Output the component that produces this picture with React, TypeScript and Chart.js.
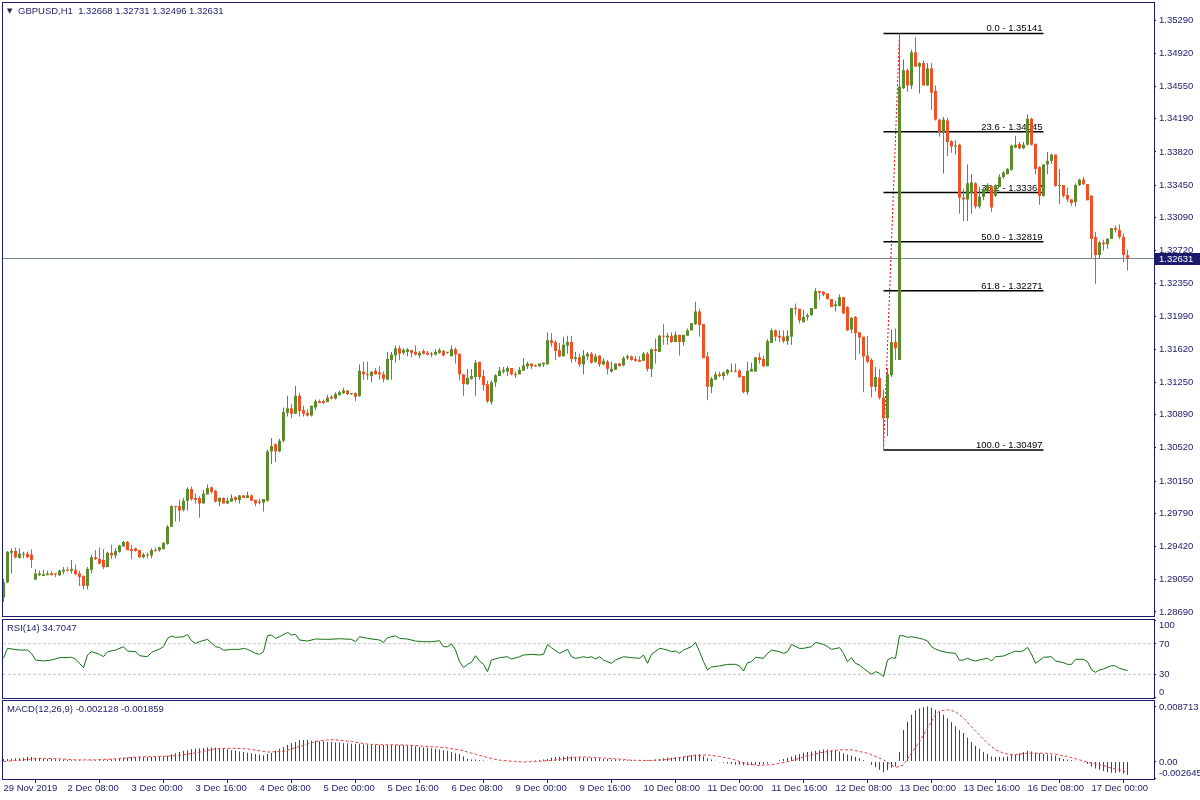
import React, { useEffect, useRef } from 'react';
import { Chart, registerables } from 'chart.js';

Chart.register(...registerables);

// ---------------- data ----------------
const symbolName = 'GBPUSD,H1';

const opens = [
  1.2885, 1.2902, 1.2935, 1.2937, 1.2929, 1.2933, 1.2934, 1.2933, 1.2905, 1.2910,
  1.2909, 1.2910, 1.2912, 1.2912, 1.2910, 1.2914, 1.2916, 1.2915, 1.2916, 1.2912,
  1.2909, 1.2898, 1.2916, 1.2930, 1.2928, 1.2927, 1.2919, 1.2935, 1.2932, 1.2936,
  1.2942, 1.2947, 1.2939, 1.2940, 1.2938, 1.2930, 1.2933, 1.2932, 1.2938, 1.2938,
  1.2939, 1.2945, 1.2964, 1.2987, 1.2987, 1.2983, 1.2993, 1.3006, 1.2996, 1.2996,
  1.2990, 1.3000, 1.3008, 1.3004, 1.2992, 1.2996, 1.2990, 1.2992, 1.2997, 1.2994,
  1.2999, 1.2996, 1.2999, 1.2994, 1.2992, 1.2991, 1.2993, 1.3048, 1.3056, 1.3048,
  1.3060, 1.3091, 1.3096, 1.3090, 1.3110, 1.3094, 1.3091, 1.3088, 1.3097, 1.3104,
  1.3104, 1.3103, 1.3109, 1.3107, 1.3111, 1.3113, 1.3116, 1.3112, 1.3113, 1.3110,
  1.3137, 1.3134, 1.3132, 1.3138, 1.3136, 1.3134, 1.3128, 1.3150, 1.3155, 1.3163,
  1.3158, 1.3159, 1.3161, 1.3159, 1.3155, 1.3160, 1.3158, 1.3157, 1.3156, 1.3158,
  1.3160, 1.3158, 1.3154, 1.3162, 1.3157, 1.3134, 1.3123, 1.3129, 1.3131, 1.3148,
  1.3132, 1.3123, 1.3103, 1.3125, 1.3132, 1.3137, 1.3137, 1.3141, 1.3134, 1.3134,
  1.3138, 1.3143, 1.3146, 1.3144, 1.3143, 1.3145, 1.3145, 1.3172, 1.3170, 1.3161,
  1.3154, 1.3166, 1.3170, 1.3151, 1.3153, 1.3145, 1.3154, 1.3157, 1.3148, 1.3155,
  1.3145, 1.3148, 1.3137, 1.3139, 1.3146, 1.3144, 1.3152, 1.3154, 1.3151, 1.3150,
  1.3149, 1.3157, 1.3140, 1.3162, 1.3159, 1.3177, 1.3175, 1.3177, 1.3170, 1.3178,
  1.3170, 1.3177, 1.3183, 1.3190, 1.3204, 1.3190, 1.3154, 1.3120, 1.3128, 1.3134,
  1.3132, 1.3135, 1.3137, 1.3138, 1.3138, 1.3132, 1.3114, 1.3137, 1.3137, 1.3153,
  1.3151, 1.3143, 1.3169, 1.3183, 1.3177, 1.3176, 1.3171, 1.3176, 1.3208, 1.3207,
  1.3192, 1.3198, 1.3200, 1.3207, 1.3227, 1.3226, 1.3224, 1.3218, 1.3210, 1.3210,
  1.3220, 1.3209, 1.3184, 1.3198, 1.3181, 1.3176, 1.3155, 1.3150, 1.3120, 1.3130,
  1.3108, 1.3085, 1.3133, 1.3170, 1.3150, 1.3453, 1.3473, 1.3456, 1.3493, 1.3477,
  1.3481, 1.3456, 1.3475, 1.3450, 1.3418, 1.3404, 1.3417, 1.3394, 1.3388, 1.3390,
  1.3331, 1.3329, 1.3336, 1.3347, 1.3321, 1.3332, 1.3338, 1.3344, 1.3333, 1.3343,
  1.3354, 1.3357, 1.3362, 1.3387, 1.3391, 1.3386, 1.3390, 1.3419, 1.3391, 1.3365,
  1.3333, 1.3368, 1.3372, 1.3379, 1.3344, 1.3345, 1.3334, 1.3329, 1.3326, 1.3345,
  1.3351, 1.3346, 1.3333, 1.3287, 1.3267, 1.3281, 1.3279, 1.3285, 1.3297, 1.3295,
  1.3287, 1.32668,
];

const highs = [
  1.2906, 1.2937, 1.2940, 1.2941, 1.2940, 1.2936, 1.2936, 1.2939, 1.2917, 1.2915,
  1.2916, 1.2915, 1.2914, 1.2912, 1.2916, 1.2919, 1.2919, 1.2927, 1.2922, 1.2915,
  1.2910, 1.2919, 1.2933, 1.2938, 1.2941, 1.2939, 1.2936, 1.2944, 1.2940, 1.2944,
  1.2948, 1.2948, 1.2944, 1.2941, 1.2938, 1.2935, 1.2935, 1.2940, 1.2941, 1.2942,
  1.2947, 1.2966, 1.2988, 1.2987, 1.2994, 1.2996, 1.3008, 1.3009, 1.3001, 1.2998,
  1.3005, 1.3011, 1.3009, 1.3005, 1.2997, 1.2997, 1.2997, 1.3000, 1.2998, 1.2999,
  1.2999, 1.3003, 1.3000, 1.2994, 1.2995, 1.2995, 1.3050, 1.3063, 1.3057, 1.3062,
  1.3097, 1.3110, 1.3101, 1.3121, 1.3113, 1.3099, 1.3095, 1.3099, 1.3106, 1.3106,
  1.3106, 1.3111, 1.3111, 1.3114, 1.3116, 1.3119, 1.3116, 1.3113, 1.3114, 1.3145,
  1.3148, 1.3148, 1.3137, 1.3141, 1.3143, 1.3137, 1.3159, 1.3159, 1.3166, 1.3166,
  1.3163, 1.3163, 1.3161, 1.3166, 1.3160, 1.3162, 1.3160, 1.3159, 1.3162, 1.3163,
  1.3161, 1.3159, 1.3166, 1.3164, 1.3157, 1.3134, 1.3140, 1.3140, 1.3150, 1.3148,
  1.3139, 1.3127, 1.3127, 1.3134, 1.3142, 1.3142, 1.3143, 1.3141, 1.3137, 1.3142,
  1.3152, 1.3148, 1.3146, 1.3145, 1.3146, 1.3147, 1.3181, 1.3180, 1.3172, 1.3169,
  1.3176, 1.3177, 1.3177, 1.3159, 1.3157, 1.3161, 1.3159, 1.3159, 1.3157, 1.3155,
  1.3152, 1.3150, 1.3148, 1.3146, 1.3147, 1.3154, 1.3156, 1.3155, 1.3154, 1.3154,
  1.3159, 1.3159, 1.3163, 1.3174, 1.3178, 1.3190, 1.3180, 1.3181, 1.3182, 1.3178,
  1.3178, 1.3185, 1.3191, 1.3215, 1.3207, 1.3190, 1.3159, 1.3131, 1.3137, 1.3137,
  1.3137, 1.3140, 1.3146, 1.3146, 1.3140, 1.3132, 1.3148, 1.3147, 1.3153, 1.3158,
  1.3155, 1.3173, 1.3185, 1.3184, 1.3183, 1.3183, 1.3183, 1.3208, 1.3213, 1.3207,
  1.3206, 1.3202, 1.3208, 1.3230, 1.3227, 1.3227, 1.3224, 1.3218, 1.3216, 1.3223,
  1.3220, 1.3210, 1.3198, 1.3199, 1.3181, 1.3176, 1.3177, 1.3152, 1.3142, 1.3140,
  1.3117, 1.3141, 1.3184, 1.3185, 1.35141, 1.3485, 1.3475, 1.3496, 1.3510, 1.3482,
  1.3484, 1.3481, 1.3481, 1.3456, 1.3419, 1.3421, 1.3420, 1.3395, 1.3395, 1.3391,
  1.3341, 1.3368, 1.3357, 1.3348, 1.3343, 1.3342, 1.3347, 1.3345, 1.3346, 1.3357,
  1.3361, 1.3364, 1.3390, 1.3400, 1.3393, 1.3393, 1.3424, 1.3420, 1.3391, 1.3366,
  1.3368, 1.3382, 1.3380, 1.3379, 1.3363, 1.3345, 1.3342, 1.3329, 1.3347, 1.3352,
  1.3354, 1.3346, 1.3334, 1.3293, 1.3283, 1.3284, 1.3286, 1.3297, 1.3300, 1.3301,
  1.3291, 1.32731,
];

const lows = [
  1.2880, 1.2901, 1.2912, 1.2929, 1.2929, 1.2929, 1.2929, 1.2918, 1.2905, 1.2909,
  1.2909, 1.2910, 1.2910, 1.2908, 1.2909, 1.2911, 1.2914, 1.2912, 1.2910, 1.2898,
  1.2894, 1.2894, 1.2912, 1.2927, 1.2922, 1.2917, 1.2919, 1.2928, 1.2929, 1.2935,
  1.2942, 1.2938, 1.2928, 1.2936, 1.2929, 1.2929, 1.2929, 1.2929, 1.2936, 1.2936,
  1.2939, 1.2944, 1.2964, 1.2970, 1.2970, 1.2981, 1.2982, 1.2993, 1.2990, 1.2974,
  1.2990, 1.3000, 1.3001, 1.2991, 1.2987, 1.2990, 1.2989, 1.2992, 1.2992, 1.2990,
  1.2996, 1.2996, 1.2993, 1.2987, 1.2989, 1.2981, 1.2992, 1.3034, 1.3036, 1.3047,
  1.3058, 1.3087, 1.3085, 1.3090, 1.3087, 1.3087, 1.3087, 1.3087, 1.3094, 1.3102,
  1.3101, 1.3103, 1.3106, 1.3106, 1.3110, 1.3112, 1.3111, 1.3111, 1.3104, 1.3109,
  1.3128, 1.3128, 1.3125, 1.3134, 1.3128, 1.3125, 1.3128, 1.3128, 1.3147, 1.3150,
  1.3156, 1.3154, 1.3153, 1.3155, 1.3152, 1.3156, 1.3155, 1.3153, 1.3155, 1.3157,
  1.3154, 1.3157, 1.3154, 1.3146, 1.3127, 1.3110, 1.3122, 1.3128, 1.3110, 1.3128,
  1.3116, 1.3102, 1.3100, 1.3120, 1.3132, 1.3135, 1.3132, 1.3133, 1.3130, 1.3134,
  1.3138, 1.3140, 1.3140, 1.3142, 1.3142, 1.3142, 1.3145, 1.3165, 1.3150, 1.3153,
  1.3154, 1.3157, 1.3147, 1.3148, 1.3142, 1.3134, 1.3150, 1.3146, 1.3147, 1.3142,
  1.3144, 1.3134, 1.3136, 1.3139, 1.3143, 1.3143, 1.3150, 1.3149, 1.3148, 1.3148,
  1.3149, 1.3137, 1.3131, 1.3146, 1.3159, 1.3167, 1.3167, 1.3169, 1.3170, 1.3155,
  1.3166, 1.3177, 1.3183, 1.3189, 1.3176, 1.3152, 1.3105, 1.3113, 1.3128, 1.3131,
  1.3128, 1.3133, 1.3137, 1.3136, 1.3130, 1.3113, 1.3111, 1.3137, 1.3137, 1.3146,
  1.3142, 1.3143, 1.3169, 1.3171, 1.3170, 1.3169, 1.3167, 1.3167, 1.3200, 1.3191,
  1.3192, 1.3194, 1.3199, 1.3207, 1.3217, 1.3221, 1.3217, 1.3209, 1.3204, 1.3210,
  1.3201, 1.3182, 1.3180, 1.3150, 1.3157, 1.3114, 1.3146, 1.3108, 1.3115, 1.3106,
  1.30497, 1.3065, 1.3131, 1.3150, 1.3150, 1.3452, 1.3449, 1.3452, 1.3477, 1.3447,
  1.3456, 1.3456, 1.3429, 1.3417, 1.3399, 1.3358, 1.3377, 1.3381, 1.3379, 1.3313,
  1.3305, 1.3305, 1.3313, 1.3319, 1.3319, 1.3328, 1.3337, 1.3315, 1.3332, 1.3343,
  1.3352, 1.3357, 1.3361, 1.3386, 1.3385, 1.3385, 1.3389, 1.3389, 1.3357, 1.3323,
  1.3332, 1.3357, 1.3369, 1.3343, 1.3324, 1.3331, 1.3326, 1.3322, 1.3321, 1.3344,
  1.3345, 1.3328, 1.3263, 1.3235, 1.3263, 1.3272, 1.3274, 1.3285, 1.3292, 1.3285,
  1.3259, 1.32496,
];

const closes = [
  1.2902, 1.2936, 1.2937, 1.2930, 1.2934, 1.2934, 1.2930, 1.2927, 1.2912, 1.2912,
  1.2911, 1.2912, 1.2910, 1.2911, 1.2915, 1.2916, 1.2915, 1.2917, 1.2911, 1.2908,
  1.2898, 1.2917, 1.2930, 1.2928, 1.2923, 1.2919, 1.2935, 1.2932, 1.2937, 1.2943,
  1.2947, 1.2938, 1.2937, 1.2937, 1.2930, 1.2933, 1.2932, 1.2938, 1.2937, 1.2941,
  1.2946, 1.2964, 1.2987, 1.2986, 1.2982, 1.2993, 1.3006, 1.2995, 1.2994, 1.2990,
  1.3001, 1.3007, 1.3003, 1.2992, 1.2996, 1.2990, 1.2993, 1.2996, 1.2994, 1.2999,
  1.2996, 1.2999, 1.2993, 1.2990, 1.2991, 1.2995, 1.3048, 1.3054, 1.3048, 1.3060,
  1.3092, 1.3096, 1.3090, 1.3110, 1.3093, 1.3090, 1.3088, 1.3099, 1.3104, 1.3102,
  1.3102, 1.3108, 1.3107, 1.3112, 1.3114, 1.3116, 1.3112, 1.3112, 1.3109, 1.3138,
  1.3134, 1.3133, 1.3137, 1.3134, 1.3134, 1.3129, 1.3151, 1.3156, 1.3163, 1.3157,
  1.3161, 1.3162, 1.3158, 1.3156, 1.3158, 1.3157, 1.3156, 1.3156, 1.3159, 1.3161,
  1.3155, 1.3158, 1.3162, 1.3156, 1.3134, 1.3123, 1.3130, 1.3132, 1.3147, 1.3131,
  1.3122, 1.3104, 1.3125, 1.3133, 1.3138, 1.3139, 1.3141, 1.3134, 1.3133, 1.3139,
  1.3144, 1.3146, 1.3143, 1.3143, 1.3146, 1.3147, 1.3172, 1.3169, 1.3160, 1.3154,
  1.3167, 1.3170, 1.3151, 1.3153, 1.3145, 1.3155, 1.3157, 1.3147, 1.3154, 1.3145,
  1.3149, 1.3140, 1.3140, 1.3146, 1.3143, 1.3152, 1.3154, 1.3150, 1.3149, 1.3148,
  1.3157, 1.3140, 1.3162, 1.3160, 1.3177, 1.3176, 1.3177, 1.3170, 1.3178, 1.3170,
  1.3178, 1.3183, 1.3191, 1.3204, 1.3189, 1.3152, 1.3120, 1.3129, 1.3134, 1.3132,
  1.3136, 1.3139, 1.3138, 1.3137, 1.3131, 1.3114, 1.3138, 1.3140, 1.3153, 1.3150,
  1.3143, 1.3171, 1.3183, 1.3176, 1.3175, 1.3171, 1.3177, 1.3208, 1.3207, 1.3194,
  1.3198, 1.3200, 1.3208, 1.3227, 1.3225, 1.3223, 1.3218, 1.3209, 1.3212, 1.3220,
  1.3202, 1.3183, 1.3197, 1.3180, 1.3175, 1.3154, 1.3148, 1.3120, 1.3131, 1.3108,
  1.3085, 1.3134, 1.3170, 1.3163, 1.3455, 1.3473, 1.3456, 1.3493, 1.3477, 1.3481,
  1.3456, 1.3475, 1.3448, 1.3418, 1.3404, 1.3418, 1.3393, 1.3388, 1.3389, 1.3331,
  1.3329, 1.3347, 1.3348, 1.3321, 1.3332, 1.3340, 1.3345, 1.3320, 1.3345, 1.3354,
  1.3359, 1.3363, 1.3389, 1.3390, 1.3386, 1.3390, 1.3419, 1.3390, 1.3363, 1.3333,
  1.3368, 1.3372, 1.3379, 1.3344, 1.3345, 1.3333, 1.3329, 1.3325, 1.3345, 1.3351,
  1.3346, 1.3328, 1.3285, 1.3267, 1.3281, 1.3279, 1.3285, 1.3297, 1.3295, 1.3287,
  1.3267, 1.32631,
];

// right price axis labels
const priceTicks = [
  1.3529, 1.3492, 1.3455, 1.3419, 1.3382, 1.3345, 1.3309, 1.3272, 1.3235, 1.3199,
  1.3162, 1.3125, 1.3089, 1.3052, 1.3015, 1.2979, 1.2942, 1.2905, 1.2869,
];

// time axis (bar index of each label, and its text)
const xTickBars = [0, 16, 32, 48, 64, 80, 96, 112, 128, 144, 160, 176, 192, 208, 224, 240, 256, 272];
const xTickLabels = [
  '29 Nov 2019', '2 Dec 08:00', '3 Dec 00:00', '3 Dec 16:00', '4 Dec 08:00', '5 Dec 00:00',
  '5 Dec 16:00', '6 Dec 08:00', '9 Dec 00:00', '9 Dec 16:00', '10 Dec 08:00', '11 Dec 00:00',
  '11 Dec 16:00', '12 Dec 08:00', '13 Dec 00:00', '13 Dec 16:00', '16 Dec 08:00', '17 Dec 00:00',
];

// Fibonacci retracement
const fibLevels = [0, 23.6, 38.2, 50, 61.8, 100];
const fibPrices = [1.35141, 1.34045, 1.33367, 1.32819, 1.32271, 1.30497];
const fibLineBars = [220, 260];
const fibAnchorBars = [220, 224];
const fibAnchorPrices = [1.30497, 1.35141];

// RSI(14)
const rsiBars = [
  0, 1, 4, 6, 7, 8, 10, 12, 14, 17,
  18, 19, 20, 21, 22, 24, 25, 26, 28, 30,
  31, 33, 34, 36, 37, 39, 40, 41, 42, 43,
  45, 46, 47, 48, 49, 51, 53, 54, 55, 57,
  59, 60, 61, 63, 64, 65, 66, 67, 68, 69,
  71, 72, 73, 74, 76, 78, 81, 84, 87, 88,
  89, 91, 94, 95, 96, 98, 99, 101, 103, 105,
  107, 109, 110, 111, 112, 113, 114, 115, 116, 117,
  118, 119, 120, 121, 122, 124, 126, 127, 129, 130,
  132, 134, 135, 136, 137, 139, 141, 142, 143, 144,
  145, 146, 147, 148, 149, 150, 152, 153, 155, 157,
  159, 160, 161, 162, 164, 165, 166, 167, 168, 169,
  170, 172, 173, 174, 175, 176, 177, 179, 181, 183,
  184, 185, 186, 187, 188, 190, 191, 192, 194, 195,
  196, 197, 199, 200, 202, 203, 205, 206, 207, 209,
  210, 211, 212, 213, 214, 215, 217, 218, 219, 220,
  221, 222, 223, 224, 225, 226, 227, 229, 230, 231,
  232, 233, 234, 236, 238, 239, 240, 241, 242, 243,
  245, 246, 247, 248, 250, 252, 253, 254, 255, 256,
  257, 258, 260, 262, 263, 265, 266, 267, 268, 270,
  271, 272, 273, 274, 275, 277, 278, 279, 281,
];
const rsiValues = [
  50.9, 63.9, 61.7, 61.7, 57.4, 48.7, 47.4, 48.7, 51.7, 52.2,
  50, 44.3, 38.7, 55.2, 59.6, 56.1, 53, 59.6, 61.7, 66.1,
  60.4, 59.6, 54.3, 53, 58.7, 63, 66.1, 77, 80, 78.3,
  79.1, 82.2, 73.9, 70.4, 72.6, 75.7, 66.1, 65.2, 61.3, 62.6,
  62.6, 63.9, 62.6, 57.4, 56.1, 59.6, 80.4, 81.3, 77, 79.1,
  84.8, 81.3, 82.2, 74.8, 73.5, 76.1, 75.7, 76.5, 75.7, 72.6,
  79.1, 77, 74.8, 71.7, 77.8, 80.4, 77, 76.1, 73.5, 72.6,
  72.6, 73.9, 66.1, 66.1, 69.6, 61.7, 46.5, 38.7, 43, 45.7,
  54.3, 47.4, 43, 33.5, 48.7, 51.7, 53, 50, 53, 55.2,
  56.1, 55.2, 56.1, 69.1, 64.8, 57.4, 62.6, 53, 50.9, 51.7,
  53, 51.7, 53, 50, 53, 48.7, 44.3, 48.7, 53, 51.7,
  50.9, 55.2, 44.3, 56.1, 63.9, 63, 61.7, 59.6, 60.4, 57.4,
  61.7, 66.1, 71.7, 59.6, 46.5, 35.7, 39.6, 40.9, 43, 43,
  40.9, 34.3, 45.2, 46.5, 52.2, 50.9, 57.4, 61.7, 59.6, 57.4,
  59.6, 69.1, 63.9, 63.9, 66.1, 71.7, 69.1, 66.1, 62.6, 64.8,
  57.4, 46.5, 51.7, 44.3, 42.2, 37.8, 30, 33.5, 31.3, 27,
  48.7, 51.7, 50.9, 80.4, 80.4, 78.3, 79.1, 77, 75.7, 73.5,
  66.1, 63, 60.9, 58.3, 57.4, 48.3, 48.7, 50.9, 48.7, 47.4,
  50, 50.9, 47.4, 53, 53.9, 58.3, 60.4, 59.6, 60.9, 65.2,
  56.5, 44.3, 52.2, 53, 47.4, 45.2, 43, 43, 49.6, 49.6,
  46.5, 35.7, 32.6, 35.7, 37, 41.3, 40.9, 37.8, 34.7047,
];
const rsiLevels = [30, 70];
const rsiTicks = [0, 30, 70, 100];

// MACD(12,26,9): main value of every bar, signal line samples
const macdValues = [
  0.0004, 0.0004, 0.00045, 0.0005, 0.0005, 0.0006, 0.0007, 0.0007, 0.0006, 0.0005,
  0.00045, 0.0004, 0.0004, 0.00035, 0.0003, 0.0003, 0.00025, 0.0002, 0.0002, 0.00015,
  0.0001, 0.0001, 0.00015, 0.0002, 0.0002, 0.00025, 0.0003, 0.00035, 0.0004, 0.0005,
  0.0006, 0.00065, 0.0007, 0.0007, 0.00075, 0.0007, 0.0007, 0.0007, 0.00075, 0.0008,
  0.0008, 0.0009, 0.00115, 0.0013, 0.0015, 0.0017, 0.0018, 0.00195, 0.002, 0.0021,
  0.00215, 0.0022, 0.0022, 0.0022, 0.0021, 0.002, 0.00195, 0.0018, 0.0017, 0.0016,
  0.0015, 0.0014, 0.0013, 0.0012, 0.0011, 0.00095, 0.0012, 0.0014, 0.0017, 0.002,
  0.0023, 0.0026, 0.0029, 0.0031, 0.0034, 0.0034, 0.0034, 0.0033, 0.0033, 0.0032,
  0.0032, 0.0031, 0.0031, 0.003, 0.003, 0.0029, 0.0029, 0.0028, 0.0028, 0.0028,
  0.0027, 0.0027, 0.0026, 0.0026, 0.0026, 0.0026, 0.0026, 0.0026, 0.0026, 0.0026,
  0.0026, 0.0025, 0.0025, 0.0024, 0.0023, 0.0022, 0.0022, 0.0021, 0.002, 0.0019,
  0.0018, 0.0017, 0.0015, 0.0013, 0.0012, 0.0008, 0.0004, 0.0003, 0.0003, 0.0002,
  0.00015, 0.0001, 0.00005, 0, 0, -0.00003, -0.00003, 0, 0, 0.00003,
  0.00005, 0.0001, 0.0001, 0.00015, 0.0002, 0.0003, 0.0004, 0.0006, 0.0007, 0.00075,
  0.0008, 0.00085, 0.0008, 0.00075, 0.0007, 0.00065, 0.0006, 0.00055, 0.0005, 0.0005,
  0.0004, 0.0004, 0.0003, 0.0003, 0.0002, 0.0002, 0.0002, 0.0002, 0.0002, 0.0002,
  0.0002, 0.0002, 0.0002, 0.0003, 0.0004, 0.0005, 0.0006, 0.0006, 0.0007, 0.0007,
  0.0008, 0.0009, 0.001, 0.0011, 0.0012, 0.0008, 0.0005, 0.0003, 0.0001, -0.0001,
  -0.0002, -0.0003, -0.0004, -0.0005, -0.0005, -0.0006, -0.0006, -0.0006, -0.0005, -0.0005,
  -0.0004, -0.0003, -0.0001, 0, 0.0002, 0.0004, 0.0006, 0.0008, 0.001, 0.0012,
  0.0014, 0.0015, 0.0016, 0.0017, 0.0018, 0.0019, 0.0019, 0.0018, 0.0018, 0.0016,
  0.0013, 0.0011, 0.0009, 0.0007, 0.0005, 0.0002, 0, -0.0005, -0.0009, -0.0013,
  -0.0017, -0.0014, -0.001, -0.0008, 0.0015, 0.005, 0.0063, 0.0074, 0.0081, 0.0084,
  0.0086, 0.008713, 0.0085, 0.0082, 0.0079, 0.0074, 0.0068, 0.0062, 0.0056, 0.005,
  0.0045, 0.0038, 0.0031, 0.0025, 0.002, 0.0015, 0.0012, 0.0008, 0.0007, 0.0007,
  0.0007, 0.0008, 0.0011, 0.0012, 0.0013, 0.0015, 0.0017, 0.0016, 0.0014, 0.0013,
  0.0012, 0.0011, 0.001, 0.0009, 0.0006, 0.0004, 0.0003, 0.0002, 0.0001, 0,
  -0.0001, -0.0004, -0.0008, -0.0011, -0.0013, -0.0015, -0.0017, -0.0018, -0.0018, -0.0017,
  -0.0019, -0.002128,
];
const signalBars = [
  0, 5, 9, 14, 18, 23, 28, 33, 38, 41,
  45, 49, 53, 57, 61, 64, 66, 70, 74, 78,
  81, 83, 87, 91, 95, 99, 103, 106, 110, 114,
  118, 121, 124, 128, 130, 133, 137, 141, 145, 149,
  153, 157, 161, 165, 168, 172, 176, 179, 182, 186,
  189, 193, 197, 201, 205, 209, 212, 216, 220, 223,
  225, 227, 229, 231, 233, 234, 236, 238, 240, 242,
  244, 246, 248, 250, 252, 254, 256, 260, 263, 266,
  269, 272, 275, 277, 280, 281,
];
const signalValues = [
  0, 0.00026, 0.00053, 0.00042, 0.00026, 0.00026, 0.00042, 0.00069, 0.00079, 0.00084,
  0.00106, 0.00148, 0.00201, 0.00211, 0.00201, 0.0017, 0.0015, 0.0016, 0.00238, 0.00317,
  0.00343, 0.00343, 0.00317, 0.00275, 0.00264, 0.00264, 0.00253, 0.00238, 0.00222, 0.00185,
  0.00116, 0.00063, 0.00021, 0, -0.0001, 0, 0.00016, 0.00053, 0.00074, 0.0006,
  0.00042, 0.00021, 0.00016, 0.00026, 0.00053, 0.0009, 0.00106, 0.00079, 0.00042, -0.00042,
  -0.00063, -0.00042, 0.00011, 0.00095, 0.00148, 0.00185, 0.00185, 0.00132, 0.00026, -0.00095,
  -0.00053, 0.00132, 0.00317, 0.00528, 0.0074, 0.008, 0.0082, 0.0079, 0.0069, 0.0055,
  0.0042, 0.0029, 0.00185, 0.00132, 0.00106, 0.00116, 0.00132, 0.00132, 0.00116, 0.00079,
  0.00026, -0.00026, -0.00063, -0.00106, -0.00148, -0.001859,
];
const macdTicks = [-0.002645, 0, 0.008713];

// ---------------- styling ----------------
const FONT = "'Liberation Sans', Arial, sans-serif";
const FONT_SIZE = 9.5;
const NAVY = '#191970';
const TEXT = '#22226e';
const BULL = '#5b8c2b';
const BEAR = '#f34e24';

// horizontal range: 4 px per bar, chart shifted to leave room on the right
const X_MIN = -0.125;
const X_MAX = 287.625;

const lastIndex = closes.length - 1;
const lastClose = closes[lastIndex];
const bars = closes.map((_, i) => i);
const candleColors = closes.map((c, i) => (c >= opens[i] ? BULL : BEAR));

const fontStr = `${FONT_SIZE}px ${FONT}`;

const framePlugin = {
  id: 'paneFrame',
  afterDraw(chart: any) {
    const { ctx, chartArea: a } = chart;
    ctx.save();
    ctx.strokeStyle = NAVY;
    ctx.lineWidth = 1;
    ctx.strokeRect(a.left - 0.5, a.top - 0.5, a.right - a.left + 1, a.bottom - a.top + 1);
    ctx.restore();
  },
};

function captionPlugin(text: string, arrow: boolean) {
  return {
    id: 'caption',
    afterDraw(chart: any) {
      const { ctx, chartArea: a } = chart;
      ctx.save();
      ctx.fillStyle = TEXT;
      ctx.textBaseline = 'middle';
      ctx.textAlign = 'left';
      let x = a.left + 4;
      const y = a.top + 8;
      if (arrow) {
        ctx.font = "7px 'DejaVu Sans', sans-serif";
        ctx.fillStyle = '#202040';
        ctx.fillText('\u25BC', x, y);
        x += 11;
        ctx.fillStyle = TEXT;
      }
      ctx.font = fontStr;
      ctx.fillText(text, x, y + 0.5);
      ctx.restore();
    },
  };
}

function sideLabelPlugin(fmt: (v: number) => string) {
  return {
    id: 'sideLabels',
    afterDraw(chart: any) {
      const { ctx, chartArea: a } = chart;
      const s = chart.scales.y;
      ctx.save();
      ctx.font = fontStr;
      ctx.fillStyle = TEXT;
      ctx.textAlign = 'left';
      ctx.textBaseline = 'middle';
      s.ticks.forEach((t: any) => {
        let y = s.getPixelForValue(t.value);
        y = Math.max(a.top + 5, Math.min(a.bottom - 6, y));
        ctx.fillText(fmt(t.value), a.right + 5, y + 0.5);
      });
      ctx.restore();
    },
  };
}

const fibTextPlugin = {
  id: 'fibText',
  beforeDatasetsDraw(chart: any) {
    const { ctx } = chart;
    const xs = chart.scales.x;
    const ys = chart.scales.y;
    const xr = xs.getPixelForValue(fibLineBars[1]);
    ctx.save();
    ctx.font = fontStr;
    ctx.fillStyle = '#000000';
    ctx.textAlign = 'right';
    ctx.textBaseline = 'alphabetic';
    fibLevels.forEach((lvl, k) => {
      const y = ys.getPixelForValue(fibPrices[k]);
      ctx.fillText(`${lvl.toFixed(1)} - ${fibPrices[k].toFixed(5)}`, xr - 1, y - 2);
    });
    ctx.restore();
  },
};

const priceTagPlugin = {
  id: 'priceTag',
  afterDraw(chart: any) {
    const { ctx, chartArea: a } = chart;
    const ys = chart.scales.y;
    const y = Math.round(ys.getPixelForValue(lastClose));
    ctx.save();
    ctx.fillStyle = '#1b1b6b';
    ctx.fillRect(a.right + 1, y - 6, 45, 12);
    ctx.font = fontStr;
    ctx.fillStyle = '#ffffff';
    ctx.textAlign = 'left';
    ctx.textBaseline = 'middle';
    ctx.fillText(lastClose.toFixed(5), a.right + 5, y + 0.5);
    ctx.restore();
  },
};

function xScale(display: boolean): any {
  const base: any = {
    type: 'linear',
    min: X_MIN,
    max: X_MAX,
    bounds: 'data',
    offset: false,
    display,
  };
  if (display) {
    Object.assign(base, {
      position: 'bottom',
      afterBuildTicks: (s: any) => {
        s.ticks = xTickBars.map((v) => ({ value: v }));
      },
      afterFit: (s: any) => {
        s.height = 21;
        s.paddingLeft = 0;
        s.paddingRight = 0;
      },
      ticks: {
        autoSkip: false,
        maxRotation: 0,
        minRotation: 0,
        align: 'start',
        padding: 0,
        color: TEXT,
        font: { family: FONT, size: FONT_SIZE },
        callback: (v: number) => {
          const k = xTickBars.indexOf(Math.round(v));
          return k >= 0 ? xTickLabels[k] : '';
        },
      },
      grid: { drawOnChartArea: false, drawTicks: true, tickLength: 4, tickColor: NAVY, color: NAVY },
      border: { display: false },
    });
  }
  return base;
}

function sideScale(min: number, max: number, tickValues: number[], showLabels: boolean, fmt?: (v: number) => string): any {
  return {
    type: 'linear',
    position: 'right',
    min,
    max,
    bounds: 'data',
    beginAtZero: false,
    afterBuildTicks: (s: any) => {
      s.ticks = tickValues.map((v) => ({ value: v }));
    },
    afterFit: (s: any) => {
      s.width = 46;
      s.paddingTop = 0;
      s.paddingBottom = 0;
    },
    ticks: {
      display: showLabels,
      autoSkip: false,
      padding: 3,
      color: TEXT,
      font: { family: FONT, size: FONT_SIZE },
      callback: (v: number) => (fmt ? fmt(v) : String(v)),
    },
    grid: { drawOnChartArea: false, drawTicks: true, tickLength: 2, tickColor: NAVY, color: NAVY },
    border: { display: false },
  };
}

function baseOptions(padTop: number, padBottom: number): any {
  return {
    responsive: false,
    maintainAspectRatio: false,
    animation: false,
    devicePixelRatio: 1,
    events: [],
    layout: { autoPadding: false, padding: { left: 3, right: 0, top: padTop, bottom: padBottom } },
    plugins: { legend: { display: false }, tooltip: { enabled: false }, title: { display: false } },
  };
}

function mainConfig(): any {
  const fibLineSets = fibPrices.map((p) => ({
    type: 'line',
    data: [
      { x: fibLineBars[0], y: p },
      { x: fibLineBars[1], y: p },
    ],
    borderColor: '#000000',
    borderWidth: 1.5,
    pointRadius: 0,
    order: 2,
  }));
  return {
    type: 'bar',
    data: {
      datasets: [
        {
          type: 'bar',
          data: bars.map((i) => ({ x: i, y: [opens[i], closes[i]] })),
          backgroundColor: candleColors,
          barThickness: 3,
          minBarLength: 1,
          grouped: false,
          inflateAmount: 0,
          borderWidth: 0,
          order: 0,
        },
        {
          type: 'bar',
          data: bars.map((i) => ({ x: i, y: [lows[i], highs[i]] })),
          backgroundColor: candleColors,
          barThickness: 1,
          grouped: false,
          inflateAmount: 0,
          borderWidth: 0,
          order: 1,
        },
        ...fibLineSets,
        {
          type: 'line',
          data: fibAnchorBars.map((b, k) => ({ x: b, y: fibAnchorPrices[k] })),
          borderColor: '#ff0000',
          borderWidth: 1,
          borderDash: [2, 2],
          pointRadius: 0,
          order: 2,
        },
        {
          type: 'line',
          data: [
            { x: X_MIN, y: lastClose },
            { x: X_MAX, y: lastClose },
          ],
          borderColor: '#778899',
          borderWidth: 1,
          pointRadius: 0,
          order: 5,
        },
      ],
    },
    options: {
      ...baseOptions(3, 184),
      scales: {
        x: xScale(false),
        y: sideScale(1.28645, 1.3548, priceTicks, true, (v) => Number(v).toFixed(5)),
      },
    },
    plugins: [
      fibTextPlugin,
      framePlugin,
      captionPlugin(
        `${symbolName}  ${opens[lastIndex].toFixed(5)} ${highs[lastIndex].toFixed(5)} ${lows[lastIndex].toFixed(5)} ${closes[lastIndex].toFixed(5)}`,
        true,
      ),
      priceTagPlugin,
    ],
  };
}

function rsiConfig(): any {
  return {
    type: 'line',
    data: {
      datasets: [
        {
          data: rsiBars.map((b, k) => ({ x: b, y: rsiValues[k] })),
          borderColor: '#127012',
          borderWidth: 1,
          pointRadius: 0,
          tension: 0,
          order: 0,
        },
        ...rsiLevels.map((l) => ({
          data: [
            { x: X_MIN, y: l },
            { x: X_MAX, y: l },
          ],
          borderColor: '#c4c4c4',
          borderWidth: 1,
          borderDash: [3, 2],
          pointRadius: 0,
          order: 1,
        })),
      ],
    },
    options: {
      ...baseOptions(620, 102),
      scales: {
        x: xScale(false),
        y: sideScale(-1, 101, rsiTicks, false),
      },
    },
    plugins: [
      framePlugin,
      captionPlugin(`RSI(14) ${rsiValues[rsiValues.length - 1].toFixed(4)}`, false),
      sideLabelPlugin((v) => String(v)),
    ],
  };
}

function macdConfig(): any {
  return {
    type: 'bar',
    data: {
      datasets: [
        {
          type: 'line',
          data: signalBars.map((b, k) => ({ x: b, y: signalValues[k] })),
          borderColor: '#e04848',
          borderWidth: 1,
          borderDash: [3, 2],
          pointRadius: 0,
          tension: 0,
          order: 0,
        },
        {
          type: 'bar',
          data: bars.map((i) => ({ x: i, y: macdValues[i] })),
          backgroundColor: '#2f4f40',
          barThickness: 1,
          grouped: false,
          inflateAmount: 0,
          borderWidth: 0,
          order: 1,
        },
      ],
    },
    options: {
      ...baseOptions(701, 0),
      scales: {
        x: xScale(true),
        y: sideScale(-0.00277, 0.00958, macdTicks, false),
      },
    },
    plugins: [
      framePlugin,
      captionPlugin(
        `MACD(12,26,9) ${macdValues[macdValues.length - 1].toFixed(6)} ${signalValues[signalValues.length - 1].toFixed(6)}`,
        false,
      ),
      sideLabelPlugin((v) => (v === 0 ? '0.00' : v.toFixed(6))),
    ],
  };
}

export default function App() {
  const mainRef = useRef<HTMLCanvasElement>(null);
  const rsiRef = useRef<HTMLCanvasElement>(null);
  const macdRef = useRef<HTMLCanvasElement>(null);

  useEffect(() => {
    const charts: Chart[] = [];
    if (mainRef.current) charts.push(new Chart(mainRef.current, mainConfig()));
    if (rsiRef.current) charts.push(new Chart(rsiRef.current, rsiConfig()));
    if (macdRef.current) charts.push(new Chart(macdRef.current, macdConfig()));
    return () => charts.forEach((c) => c.destroy());
  }, []);

  const canvasStyle: React.CSSProperties = { position: 'absolute', left: 0, top: 0, width: 1200, height: 800 };

  return (
    <div
      style={{ position: 'absolute', left: 0, top: 0, width: 1200, height: 800, background: '#ffffff', overflow: 'hidden' }}
    >
      <canvas ref={mainRef} width={1200} height={800} style={canvasStyle} />
      <canvas ref={rsiRef} width={1200} height={800} style={canvasStyle} />
      <canvas ref={macdRef} width={1200} height={800} style={canvasStyle} />
    </div>
  );
}
